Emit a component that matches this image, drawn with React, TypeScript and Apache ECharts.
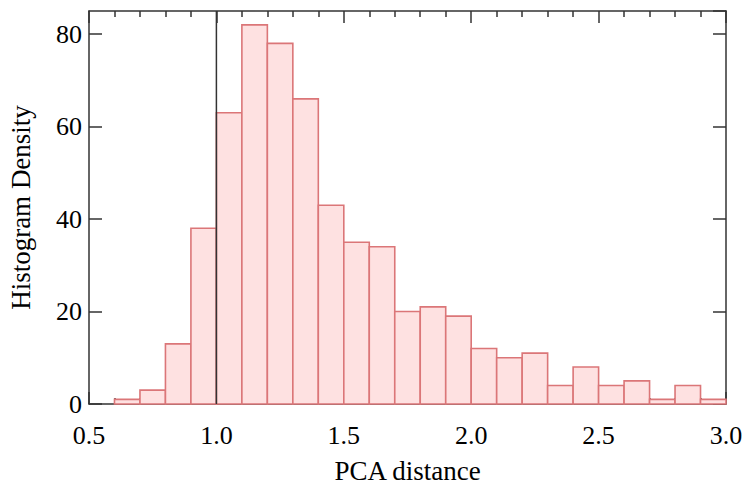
import React, { useEffect, useRef } from "react";
import * as echarts from "echarts";

const binStarts = [0.5, 0.6, 0.7, 0.8, 0.9, 1.0, 1.1, 1.2, 1.3, 1.4, 1.5, 1.6, 1.7, 1.8, 1.9, 2.0, 2.1, 2.2, 2.3, 2.4, 2.5, 2.6, 2.7, 2.8, 2.9];
const binWidth = 0.1;
const densities = [0, 1, 3, 13, 38, 63, 82, 78, 66, 43, 35, 34, 20, 21, 19, 12, 10, 11, 4, 8, 4, 5, 1, 4, 1];
const xTicks = [0.5, 1.0, 1.5, 2.0, 2.5, 3.0];
const yTicks = [0, 20, 40, 60, 80];
const refLineX = 1.0;

const FONT = "'Liberation Serif', 'DejaVu Serif', serif";

export default function App() {
  const ref = useRef<HTMLDivElement>(null);
  useEffect(() => {
    if (!ref.current) return;
    const chart = echarts.init(ref.current, undefined, { renderer: "svg" });
    const data = binStarts.map((s, i) => [s, s + binWidth, densities[i]]);
    const axisCommon = {
      type: "value" as const,
      axisLine: { show: true, onZero: false, lineStyle: { color: "#333", width: 1.5 } },
      splitLine: { show: false },
    };
    chart.setOption({
      animation: false,
      backgroundColor: "#fff",
      grid: { left: 89, right: 17, top: 11, bottom: 83, containLabel: false, outerBoundsMode: "none" },
      xAxis: [
        {
          ...axisCommon,
          position: "bottom",
          min: xTicks[0],
          max: xTicks[xTicks.length - 1],
          interval: 0.5,
          axisTick: { show: true, inside: true, length: 12, lineStyle: { color: "#333", width: 1.5 } },
          minorTick: { show: true, splitNumber: 5, length: 6, lineStyle: { color: "#333", width: 1.5 } },
          axisLabel: {
            color: "#000",
            fontFamily: FONT,
            fontSize: 26,
            margin: 18,
            formatter: (v: number) => v.toFixed(1),
          },
          name: "PCA distance",
          nameLocation: "middle",
          nameGap: 53,
          nameTextStyle: { color: "#000", fontFamily: FONT, fontSize: 27 },
        },
        {
          ...axisCommon,
          position: "top",
          min: xTicks[0],
          max: xTicks[xTicks.length - 1],
          interval: 0.5,
          axisTick: { show: true, inside: true, length: 12, lineStyle: { color: "#333", width: 1.5 } },
          minorTick: { show: true, splitNumber: 5, length: 6, lineStyle: { color: "#333", width: 1.5 } },
          axisLabel: { show: false },
        },
      ],
      yAxis: [
        {
          ...axisCommon,
          position: "left",
          min: 0,
          max: 85,
          interval: 20,
          axisTick: { show: true, inside: true, length: 13, lineStyle: { color: "#333", width: 1.5 } },
          axisLabel: {
            color: "#000",
            fontFamily: FONT,
            fontSize: 26,
            margin: 7,
            showMaxLabel: false,
            formatter: (v: number) => (yTicks.includes(v) ? String(v) : ""),
          },
          name: "Histogram Density",
          nameLocation: "middle",
          nameGap: 55,
          nameTextStyle: { color: "#000", fontFamily: FONT, fontSize: 27 },
        },
        {
          ...axisCommon,
          position: "right",
          min: 0,
          max: 85,
          interval: 20,
          axisTick: { show: true, inside: true, length: 13, lineStyle: { color: "#333", width: 1.5 } },
          axisLabel: { show: false },
        },
      ],
      series: [
        {
          type: "custom",
          xAxisIndex: 0,
          yAxisIndex: 0,
          data,
          z: 2,
          renderItem: (params: any, api: any) => {
            const x0 = api.value(0);
            const x1 = api.value(1);
            const y = api.value(2);
            if (!y) return null;
            const p0 = api.coord([x0, 0]);
            const p1 = api.coord([x1, y]);
            return {
              type: "rect",
              shape: { x: p0[0], y: p1[1], width: p1[0] - p0[0], height: p0[1] - p1[1] },
              style: { fill: "#fee1e1", stroke: "#db7678", lineWidth: 1.6 },
            };
          },
        },
        {
          type: "line",
          xAxisIndex: 0,
          yAxisIndex: 0,
          data: [[refLineX, 0], [refLineX, 85]],
          symbol: "none",
          lineStyle: { color: "#333", width: 1.5 },
          z: 5,
          silent: true,
        },
      ],
    });
    return () => chart.dispose();
  }, []);
  return <div ref={ref} style={{ width: 743, height: 487, position: "absolute", left: 0, top: 0 }} />;
}
